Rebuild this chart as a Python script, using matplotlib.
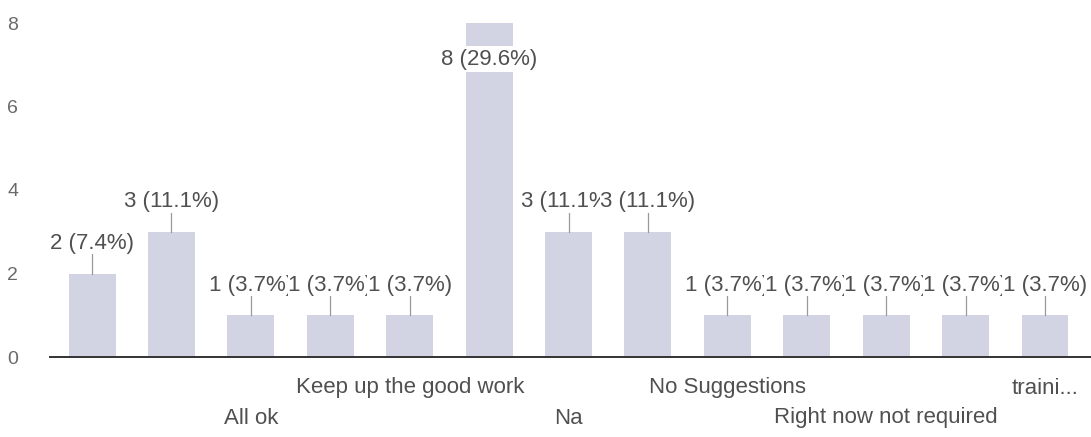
import matplotlib.pyplot as plt
import numpy as np

plt.rcParams['font.family'] = ['Liberation Sans', 'DejaVu Sans']

# ================================
# Data
# ================================
counts = [2, 3, 1, 1, 1, 8, 3, 3, 1, 1, 1, 1, 1]
# only every second category name is shown on the axis
tick_labels = ["", "", "All ok", "", "Keep up the good work", "", "Na", "",
               "No Suggestions", "", "Right now not required", "", "traini..."]
# 0 = upper row, 1 = lower row
tick_rows = [0, 0, 1, 0, 0, 0, 1, 0, 0, 0, 1, 0, 0]

total = sum(counts)
bar_color = "#d3d4e3"
text_color = "#505050"
PX_PER_UNIT = 334 / 8

fig = plt.figure(figsize=(10.91, 4.37), dpi=100)
ax = fig.add_axes([50 / 1091, 1 - 357 / 437, 1 - 50 / 1091, 334 / 437])

x = np.arange(len(counts))
ax.bar(x, counts, width=0.59, color=bar_color, zorder=2)

ax.set_xlim(-0.53, 12.58)
ax.set_ylim(0, 8)
ax.set_yticks([0, 2, 4, 6, 8])
ax.tick_params(axis='y', length=0, pad=23, labelsize=14, labelcolor="#6a6a6a")
ax.set_xticks([])

for s in ["top", "right", "left"]:
    ax.spines[s].set_visible(False)
ax.spines["bottom"].set_color("#333333")
ax.spines["bottom"].set_linewidth(1.4)

# value labels with leader lines, drawn left to right so later ones overlap
for i, c in enumerate(counts):
    txt = f"{c} ({c / total * 100:.1f}%)"
    if c == max(counts):
        ax.annotate(txt, (i, c), xytext=(0, -36), textcoords="offset pixels",
                    ha="center", va="center", fontsize=16, color=text_color,
                    bbox=dict(boxstyle="square,pad=0.1", fc="white", ec="none"),
                    zorder=4 + i)
    else:
        ax.plot([i, i], [c, c + 21 / PX_PER_UNIT], color="#9a9a9a", lw=0.9, zorder=3)
        ax.annotate(txt, (i, c), xytext=(0, 30), textcoords="offset pixels",
                    ha="center", va="center", fontsize=16, color=text_color,
                    bbox=dict(boxstyle="square,pad=0.02", fc="white", ec="none"),
                    annotation_clip=False, zorder=4 + i)

# category labels in two staggered rows
for i, (lab, row) in enumerate(zip(tick_labels, tick_rows)):
    if lab:
        ax.annotate(lab, (i, 0), xytext=(0, -31 - 30 * row), textcoords="offset pixels",
                    ha="center", va="center", fontsize=16, color=text_color,
                    annotation_clip=False)

fig.savefig("out.png", dpi=100)
